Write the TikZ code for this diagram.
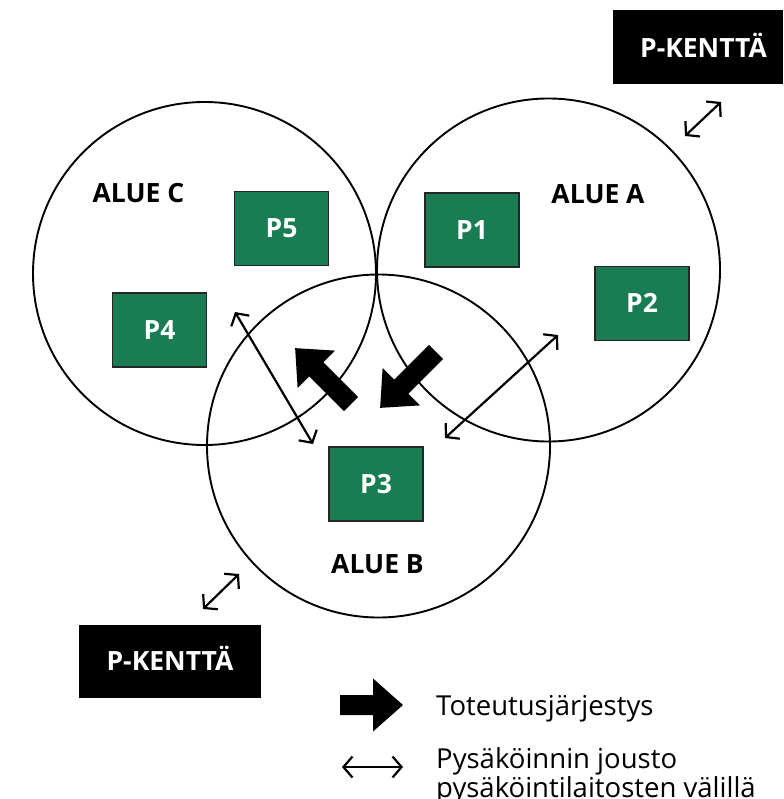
\documentclass[tikz,border=0pt]{standalone}
\usepackage{fontspec}
\setmainfont{Open Sans}
\usetikzlibrary{arrows.meta}
\definecolor{pgreen}{RGB}{25,124,82}
\tikzset{
  area/.style={draw=black, line width=1.9pt, circle, minimum size=343pt, inner sep=0pt},
  pbox/.style={draw=black!85, line width=1.2pt, fill=pgreen, minimum width=94pt, minimum height=74pt,
    text=white, font=\fontsize{26.5}{30}\selectfont\bfseries, text height=18.9pt, text depth=0pt, inner sep=0pt},
  alue/.style={font=\fontsize{26.5}{30}\selectfont\bfseries, inner sep=0pt, anchor=base},
  pkbox/.style={fill=black, text=white, font=\fontsize{26.5}{30}\selectfont\bfseries,
    text height=18.9pt, text depth=0pt, inner sep=0pt},
  dbl/.style={line width=2.2pt, {Straight Barb[length=9pt,width=21pt]}-{Straight Barb[length=9pt,width=21pt]}},
  legtext/.style={font=\fontsize{27.5}{26}\selectfont, inner sep=0pt, anchor=base west, align=left},
  pics/thickarr/.style={code={\fill[black] (0,-10) -- (#1-30,-10) -- (#1-30,-26.5) -- (#1,0) -- (#1-30,26.5) -- (#1-30,10) -- (0,10) -- cycle;}}
}
\begin{document}
\begin{tikzpicture}[x=1pt,y=-1pt]
\useasboundingbox (0,0) rectangle (783,799);
\fill[white] (0,0) rectangle (783,799);

% areas
\node[area] (cC) at (204.5,273.5) {};
\node[area] (cA) at (548.5,270) {};
\node[area] (cB) at (378.5,446) {};

% parking facilities
\node[pbox] (p5) at (281.5,228.5) {P5};
\node[pbox] (p1) at (472,230) {P1};
\node[pbox] (p2) at (642,303.5) {P2};
\node[pbox] (p4) at (159.5,330) {P4};
\node[pbox] (p3) at (376,484) {P3};

% area labels
\node[alue] (lc) at (138.5,202.5) {ALUE C};
\node[alue] (la) at (598,203.5) {ALUE A};
\node[alue] (lb) at (377.5,573.5) {ALUE B};

% parking fields
\fill[black] (613,10) rectangle (783,84);
\node[pkbox] (pk1) at (703.5,48) {P-KENTTÄ};
\node[pkbox, minimum width=182pt, minimum height=73pt] (pk2) at (170,661.5) {P-KENTTÄ};

% flexibility arrows
\coordinate (pa1) at (685,136); \coordinate (pb1) at (721,102);
\coordinate (pa2) at (203,609); \coordinate (pb2) at (239,574);
\coordinate (cb1) at (235,312); \coordinate (cb2) at (313,444);
\coordinate (ab1) at (558,335); \coordinate (ab2) at (445,438);
\draw[dbl] (pa1) -- (pb1);
\draw[dbl] (pa2) -- (pb2);
\draw[dbl] (cb1) -- (cb2);
\draw[dbl] (ab1) -- (ab2);

% implementation order arrows
\pic[rotate=135] at (351,404) {thickarr=79};
\pic[rotate=225] at (436,352) {thickarr=79};

% legend
\pic at (340,705) {thickarr=63};
\node[legtext] (t1) at (436,715) {Toteutusjärjestys};
\coordinate (leg1) at (342,767); \coordinate (leg2) at (403,767);
\draw[dbl] (leg1) -- (leg2);
\node[legtext] (t2) at (436,797) {Pysäköinnin jousto\\pysäköintilaitosten välillä};
\end{tikzpicture}
\end{document}
